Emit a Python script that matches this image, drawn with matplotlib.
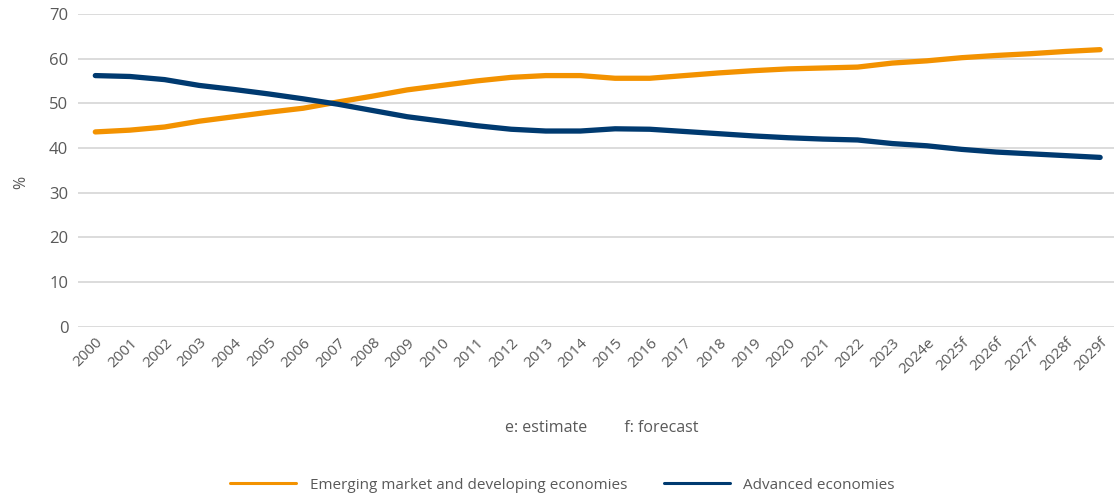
import matplotlib
matplotlib.use("Agg")
import matplotlib.pyplot as plt

# Share of world GDP (%), 2000-2029
years = ["2000", "2001", "2002", "2003", "2004", "2005", "2006", "2007", "2008", "2009",
         "2010", "2011", "2012", "2013", "2014", "2015", "2016", "2017", "2018", "2019",
         "2020", "2021", "2022", "2023", "2024e", "2025f", "2026f", "2027f", "2028f", "2029f"]
emerging = [43.6, 44.0, 44.7, 46.0, 47.0, 48.0, 48.9, 50.3, 51.6, 53.0,
            54.0, 55.0, 55.8, 56.2, 56.2, 55.6, 55.6, 56.2, 56.8, 57.3,
            57.7, 57.9, 58.1, 59.0, 59.5, 60.2, 60.7, 61.1, 61.6, 62.0]
advanced = [56.2, 56.0, 55.3, 54.0, 53.1, 52.1, 51.0, 49.8, 48.4, 47.0,
            46.0, 45.0, 44.2, 43.8, 43.8, 44.3, 44.2, 43.7, 43.2, 42.7,
            42.3, 42.0, 41.8, 41.0, 40.5, 39.7, 39.1, 38.7, 38.3, 37.9]

orange = "#F39200"
navy = "#003A70"
grey = "#595959"

plt.rcParams["font.family"] = ["Open Sans", "DejaVu Sans"]

fig = plt.figure(figsize=(11.14, 4.96), dpi=100)
ax = fig.add_axes([0.070, 0.341, 0.930, 0.631])

x = range(len(years))
ax.plot(x, emerging, color=orange, lw=3.8, solid_capstyle="round", solid_joinstyle="round",
        label="Emerging market and developing economies", zorder=3)
ax.plot(x, advanced, color=navy, lw=3.8, solid_capstyle="round", solid_joinstyle="round",
        label="Advanced economies", zorder=3)

ax.set_ylim(0, 70)
ax.set_yticks(range(0, 71, 10))
ax.set_xlim(-0.5, 29.4)
ax.set_xticks(list(x))
ax.set_xticklabels(years, rotation=45, ha="right", rotation_mode="anchor")
ax.grid(axis="y", color="#D9D9D9", lw=1.3)
ax.set_axisbelow(True)
for s in ax.spines.values():
    s.set_visible(False)
ax.tick_params(length=0, labelsize=11, labelcolor=grey)
ax.tick_params(axis="x", pad=6)
ax.tick_params(axis="y", pad=7, labelsize=12)
ax.set_ylabel("%", fontsize=11.5, color=grey)
ax.yaxis.set_label_coords(-0.047, 0.46)

fig.text(0.54, 0.137, "e: estimate         f: forecast", ha="center", va="center",
         fontsize=11.5, color=grey)

leg = fig.legend(loc="center", bbox_to_anchor=(0.505, 0.022), ncol=2, frameon=False,
                 fontsize=11, handlelength=4.3, handletextpad=0.9, columnspacing=2.4)
for t in leg.get_texts():
    t.set_color(grey)
for h in leg.legend_handles:
    h.set_linewidth(2.2)

fig.savefig("out.png", dpi=100)
